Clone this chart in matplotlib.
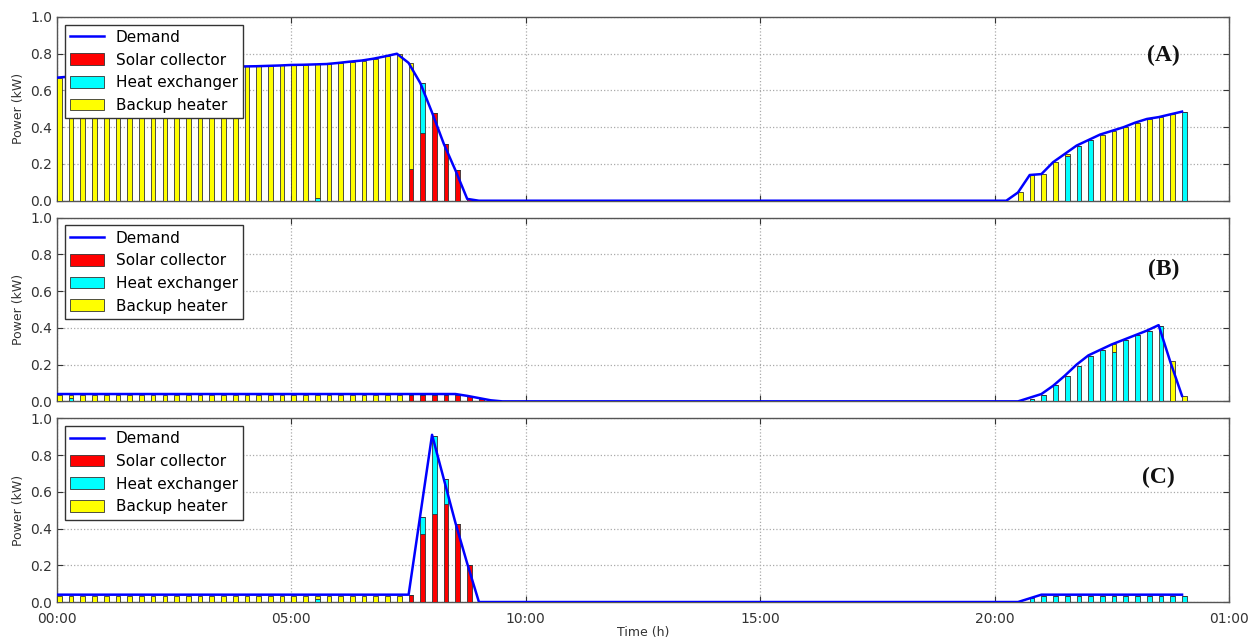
import numpy as np
import matplotlib
matplotlib.use("Agg")
import matplotlib.pyplot as plt
from matplotlib.ticker import FixedLocator, FuncFormatter

# 15-minute steps from 00:00 to 24:00 (hours)
hours = np.arange(0, 24.25, 0.25)
tick_hours = [0, 5, 10, 15, 20, 25]
tick_labels = ["00:00", "05:00", "10:00", "15:00", "20:00", "01:00"]
panel_names = ["(A)", "(B)", "(C)"]

# ---- case A ----
demand_a = ([0.670, 0.675, 0.680, 0.685, 0.690, 0.695, 0.700, 0.705,
             0.710, 0.713, 0.716, 0.719, 0.722, 0.725, 0.727, 0.729,
             0.731, 0.732, 0.734, 0.736, 0.739, 0.740, 0.742, 0.744,
             0.750, 0.757, 0.763, 0.773, 0.786, 0.800, 0.750, 0.640]
            + [0.480, 0.310, 0.165, 0.010]
            + [0.0] * 46
            + [0.045, 0.140, 0.145, 0.210, 0.255, 0.300, 0.330, 0.360,
               0.380, 0.400, 0.425, 0.445, 0.455, 0.470, 0.485])
solar_a = [0.0] * 30 + [0.170, 0.370, 0.480, 0.310, 0.165, 0.010] + [0.0] * 61
hx_a = ([0.0] * 22 + [0.015] + [0.0] * 8 + [0.270] + [0.0] * 54
        + [0.245, 0.300, 0.330] + [0.0] * 7 + [0.485])
backup_a = ([0.670, 0.675, 0.680, 0.685, 0.690, 0.695, 0.700, 0.705,
             0.710, 0.713, 0.716, 0.719, 0.722, 0.725, 0.727, 0.729,
             0.731, 0.732, 0.734, 0.736, 0.739, 0.740, 0.727, 0.744,
             0.750, 0.757, 0.763, 0.773, 0.786, 0.800]
            + [0.580] + [0.0] * 51
            + [0.045, 0.140, 0.145, 0.210, 0.010] + [0.0, 0.0]
            + [0.360, 0.380, 0.400, 0.425, 0.445, 0.455, 0.470] + [0.0])

# ---- case B ----
demand_b = ([0.040] * 35 + [0.030, 0.018, 0.006] + [0.0] * 45
            + [0.020, 0.040, 0.085, 0.140, 0.200, 0.250, 0.280, 0.310,
               0.335, 0.360, 0.385, 0.415, 0.215, 0.030])
solar_b = [0.0] * 30 + [0.035] * 5 + [0.028, 0.014] + [0.0] * 60
hx_b = ([0.0, 0.020] + [0.0] * 81
        + [0.015, 0.036, 0.087, 0.136, 0.195, 0.245, 0.280, 0.270,
           0.335, 0.360, 0.385, 0.410] + [0.0, 0.0])
backup_b = ([0.035, 0.015] + [0.035] * 28 + [0.0] * 60 + [0.040]
            + [0.0] * 4 + [0.220, 0.030])

# ---- case C ----
demand_c = ([0.040] * 31 + [0.475, 0.910, 0.670, 0.430, 0.210] + [0.0] * 47
            + [0.020] + [0.040] * 13)
solar_c = [0.0] * 30 + [0.040, 0.370, 0.480, 0.535, 0.425, 0.200] + [0.0] * 61
hx_c = ([0.0] * 22 + [0.015] + [0.0] * 8 + [0.095, 0.425, 0.135] + [0.0] * 49
        + [0.020] + [0.035] * 13)
backup_c = [0.035] * 22 + [0.020] + [0.035] * 7 + [0.0] * 67

cases = [
    (demand_a, solar_a, hx_a, backup_a),
    (demand_b, solar_b, hx_b, backup_b),
    (demand_c, solar_c, hx_c, backup_c),
]
label_pos = [(0.944, 0.79), (0.944, 0.72), (0.940, 0.68)]

fig, axes = plt.subplots(3, 1, figsize=(12.54, 6.41), dpi=100, sharex=True)
fig.subplots_adjust(left=0.0455, right=0.980, top=0.9735, bottom=0.0608, hspace=0.092)

w = 0.1
for ax, (dem, sol, hx, bak), name, pos in zip(axes, cases, panel_names, label_pos):
    sol = np.array(sol)
    hx = np.array(hx)
    bak = np.array(bak)
    ax.plot(hours, dem, color="#0000ff", lw=1.8, label="Demand", zorder=4)
    ax.bar(hours, sol, width=w, align="edge", color="#ff0000", edgecolor="#333333",
           linewidth=0.6, label="Solar collector", zorder=3)
    ax.bar(hours, hx, width=w, bottom=sol, align="edge", color="#00ffff",
           edgecolor="#333333", linewidth=0.6, label="Heat exchanger", zorder=3)
    ax.bar(hours, bak, width=w, bottom=sol + hx, align="edge", color="#ffff00",
           edgecolor="#333333", linewidth=0.6, label="Backup heater", zorder=3)

    ax.set_xlim(0, 25)
    ax.set_ylim(0, 1.0)
    ax.set_yticks([0.0, 0.2, 0.4, 0.6, 0.8, 1.0])
    ax.yaxis.set_major_formatter(FuncFormatter(lambda v, p: f"{v:.1f}"))
    ax.grid(True, linestyle=":", color="#aaaaaa", linewidth=0.9, zorder=0)
    ax.set_axisbelow(True)
    ax.tick_params(direction="in", length=4, labelsize=10, colors="#333333",
                   top=True, right=True)
    ax.tick_params(axis="x", pad=7)
    for s in ax.spines.values():
        s.set_color("#555555")
        s.set_linewidth(1.0)
    ax.set_ylabel("Power (kW)", fontsize=9, color="#333333", labelpad=4)
    leg = ax.legend(loc="upper left", fontsize=11, fancybox=False,
                    edgecolor="#333333", framealpha=1, handlelength=2.2,
                    handleheight=0.8, borderaxespad=0.5, labelspacing=0.5,
                    borderpad=0.35)
    leg.get_frame().set_linewidth(1.0)
    ax.text(pos[0], pos[1], name, transform=ax.transAxes, ha="center", va="center",
            fontsize=17, fontweight="bold", family="Liberation Serif", color="#111111")

axes[-1].xaxis.set_major_locator(FixedLocator(tick_hours))
axes[-1].set_xticklabels(tick_labels)
axes[-1].set_xlabel("Time (h)", fontsize=9, color="#333333", labelpad=0)

fig.savefig("out.png", dpi=100)
